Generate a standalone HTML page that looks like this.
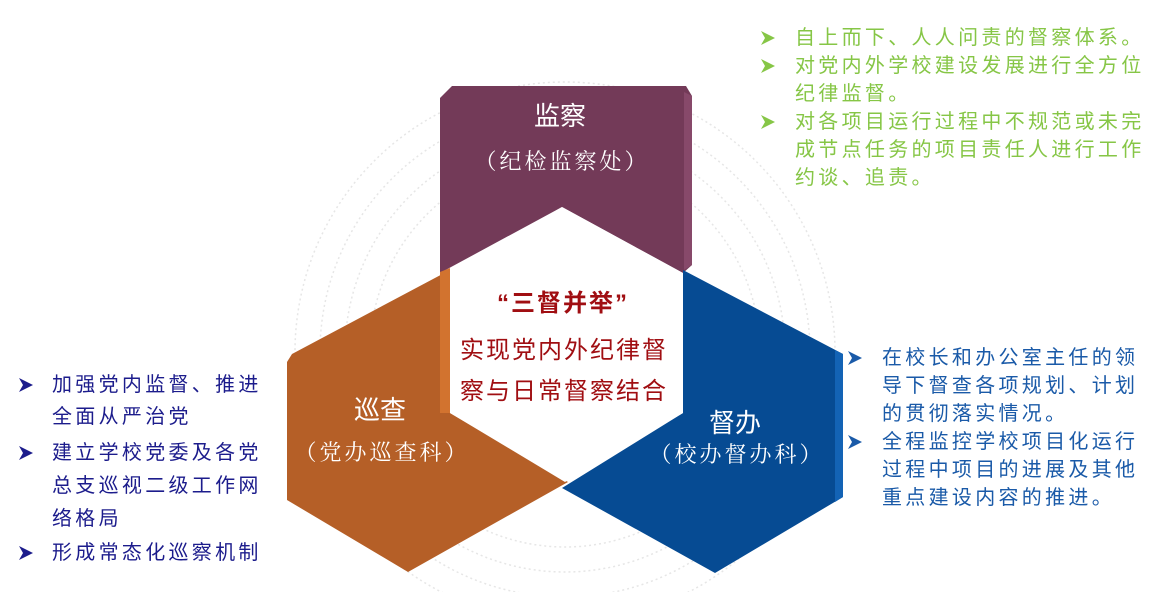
<!DOCTYPE html>
<html><head><meta charset="utf-8"><style>
html,body{margin:0;padding:0;background:#fff;width:1172px;height:592px;overflow:hidden;}
#c{position:relative;width:1172px;height:592px;overflow:hidden;font-family:"Liberation Sans","WenQuanYi Zen Hei","Noto Sans CJK SC",sans-serif;}
.l{position:absolute;font-size:20px;letter-spacing:3.3px;white-space:nowrap;line-height:24px;}
.g{color:#86c646;} .b{color:#1a5aa8;} .n{color:#1c1c8c;}
.t{position:absolute;white-space:nowrap;text-align:center;transform:translateX(-50%);}
</style></head><body><div id="c">
<svg width="1172" height="592" style="position:absolute;left:0;top:0">
<g fill="none" stroke="#e6e6e6" stroke-width="1.5" stroke-dasharray="2 3">
<circle cx="565" cy="352" r="270"/><circle cx="565" cy="352" r="245"/><circle cx="565" cy="352" r="220"/><circle cx="565" cy="352" r="195"/>
</g>
<polygon points="440,98 452,86 686,86 692,96 692,265 683,273 562,207 440,273" fill="#733a58"/>
<polygon points="684,92 692,96 692,265 684,270" fill="#87496a"/>
<polygon points="450,270 292,354 287,362 287,500 408,572 568,482 450,413" fill="#b55f27"/>
<polygon points="440,272 450,268 450,413 440,413" fill="#d2732f"/>
<polygon points="683,270 843,354 843,497 715,573 562,488 683,413" fill="#064b93"/>
<polygon points="835,350 843,354 843,497 835,502" fill="#1363b5"/>
<polygon points="562,207 683,273 683,413 565,482 450,413 450,273" fill="#fff"/>
<defs>
<polygon id="a" points="0,0 14,7 0,14 4,7"/>
</defs>
<g fill="#86c646"><use href="#a" x="761" y="31"/><use href="#a" x="761" y="59"/><use href="#a" x="761" y="115"/></g>
<g fill="#1a5aa8"><use href="#a" x="848" y="351"/><use href="#a" x="848" y="435"/></g>
<g fill="#1c1c8c"><use href="#a" x="19" y="378"/><use href="#a" x="19" y="446"/><use href="#a" x="19" y="546"/></g>
</svg>
<div class="t" style="left:560px;top:96px;font-size:26px;color:#fff">监察</div>
<div class="t" style="left:562px;top:145px;font-size:22px;color:#fff;font-family:'Noto Serif CJK SC',serif;letter-spacing:3px">（纪检监察处）</div>
<div class="t" style="left:380px;top:390px;font-size:26px;color:#fff">巡查</div>
<div class="t" style="left:382px;top:436px;font-size:22px;color:#fff;font-family:'Noto Serif CJK SC',serif;letter-spacing:3px">（党办巡查科）</div>
<div class="t" style="left:735px;top:403px;font-size:26px;color:#fff">督办</div>
<div class="t" style="left:737px;top:438px;font-size:22px;color:#fff;font-family:'Noto Serif CJK SC',serif;letter-spacing:3px">（校办督办科）</div>
<div class="t" style="left:563px;top:283px;font-size:24px;color:#a00e12;letter-spacing:2px;font-weight:bold">“三督并举”</div>
<div class="t" style="left:564px;top:330px;font-size:24px;color:#a00e12;letter-spacing:2px">实现党内外纪律督</div>
<div class="t" style="left:564px;top:371px;font-size:24px;color:#a00e12;letter-spacing:2px">察与日常督察结合</div>

<div class="l g" style="left:795px;top:26px">自上而下、人人问责的督察体系。</div>
<div class="l g" style="left:795px;top:54px">对党内外学校建设发展进行全方位</div>
<div class="l g" style="left:795px;top:82px">纪律监督。</div>
<div class="l g" style="left:795px;top:110px">对各项目运行过程中不规范或未完</div>
<div class="l g" style="left:795px;top:138px">成节点任务的项目责任人进行工作</div>
<div class="l g" style="left:795px;top:166px">约谈、追责。</div>

<div class="l b" style="left:882px;top:346px">在校长和办公室主任的领</div>
<div class="l b" style="left:882px;top:374px">导下督查各项规划、计划</div>
<div class="l b" style="left:882px;top:402px">的贯彻落实情况。</div>
<div class="l b" style="left:882px;top:430px">全程监控学校项目化运行</div>
<div class="l b" style="left:882px;top:458px">过程中项目的进展及其他</div>
<div class="l b" style="left:882px;top:486px">重点建设内容的推进。</div>

<div class="l n" style="left:52px;top:373px">加强党内监督、推进</div>
<div class="l n" style="left:52px;top:405px">全面从严治党</div>
<div class="l n" style="left:52px;top:441px">建立学校党委及各党</div>
<div class="l n" style="left:52px;top:474px">总支巡视二级工作网</div>
<div class="l n" style="left:52px;top:507px">络格局</div>
<div class="l n" style="left:52px;top:541px">形成常态化巡察机制</div>
</div></body></html>
